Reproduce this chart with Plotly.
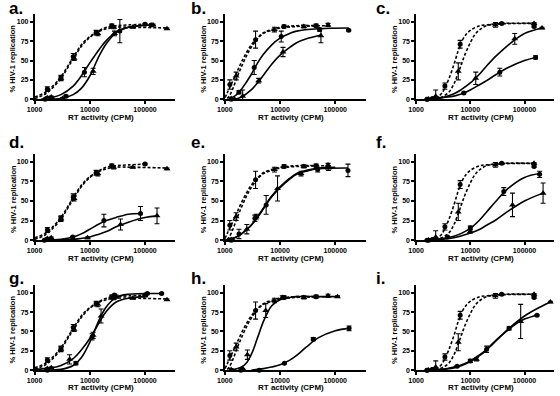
import plotly.graph_objects as go

# ---------------- shared control (dashed) series ----------------
# group A (panels a, d, g)
A_dc_x = [1700, 3000, 5000, 13000, 25000, 100000]
A_dc_y = [13, 28, 55, 86, 95, 97]
A_dc_e = [3, 3, 4, 3, 2, 1]
A_dc_fx = [1000, 1500, 2000, 3000, 4000, 5000, 7000, 10000, 15000, 20000, 30000, 50000, 100000]
A_dc_fy = [3, 8, 15, 29, 43, 54, 70, 81, 89, 93, 95, 96, 97]
A_dt_x = [1700, 2000, 3000, 5200, 14000, 27000, 60000, 250000]
A_dt_y = [2, 3, 27, 53, 85, 93, 93, 91]
A_dt_e = [1, 1, 3, 3, 3, 2, 1, 1]
A_dt_fx = [1000, 1500, 2000, 3000, 4000, 5000, 7000, 10000, 15000, 20000, 30000, 60000, 250000]
A_dt_fy = [1, 6, 13, 27, 41, 52, 68, 80, 88, 91, 93, 93, 92]

# group B (panels b, e, h)
B_dc_x = [1230, 3600, 11800, 45000]
B_dc_y = [19, 77, 94, 95]
B_dc_e = [6, 11, 2, 2]
B_dc_fx = [1000, 1100, 1200, 1400, 1700, 2000, 2500, 3000, 4000, 5000, 7000, 10000, 20000, 50000]
B_dc_fy = [2, 8, 14, 24, 37, 48, 61, 70, 80, 86, 90, 93, 95, 95]
B_dt_x = [1300, 1600, 7900, 27000, 74000]
B_dt_y = [1, 30, 90, 94, 96]
B_dt_e = [1, 5, 3, 2, 2]
B_dt_fx = [1100, 1200, 1400, 1700, 2000, 2500, 3000, 4000, 5000, 7000, 10000, 20000, 75000]
B_dt_fy = [1, 4, 14, 30, 42, 57, 67, 79, 85, 89, 92, 94, 95]

# group C (panels c, f, i)
C_dc_x = [1600, 2000, 3400, 6500, 38000, 150000]
C_dc_y = [0, 1, 17, 71, 98, 94]
C_dc_e = [1, 1, 4, 5, 1, 1]
C_dc_fx = [1500, 2000, 2500, 3000, 3500, 4000, 5000, 6000, 7000, 8000, 10000, 15000, 20000, 40000, 150000]
C_dc_fy = [0, 1, 3, 8, 17, 26, 45, 63, 75, 82, 89, 95, 96, 98, 98]
C_dt_x = [1700, 2300, 6000, 29000, 150000]
C_dt_y = [0, 4, 36, 96, 98]
C_dt_e = [0, 8, 11, 3, 1]
C_dt_fx = [1500, 2000, 2500, 3000, 4000, 5000, 6000, 7000, 8000, 10000, 12000, 15000, 20000, 30000, 150000]
C_dt_fy = [0, 0, 1, 3, 9, 20, 34, 47, 58, 73, 83, 90, 95, 97, 98]

# ---------------- per-panel (solid) series ----------------
a_c_x = [1550, 1800, 3700, 8000, 35000, 130000]
a_c_y = [0, 1, 4, 35, 88, 96]
a_c_e = [1, 1, 1, 6, 15, 1]
a_c_fx = [1300, 2000, 3000, 5000, 7000, 10000, 15000, 20000, 30000, 50000, 130000]
a_c_fy = [0, 2, 6, 17, 30, 47, 65, 76, 87, 93, 96]
a_t_x = [1600, 2100, 3200, 11500, 28000, 140000]
a_t_y = [0, 0, 1, 36, 85, 96]
a_t_e = [0, 0, 1, 4, 3, 1]
a_t_fx = [1500, 3000, 5000, 7000, 10000, 12000, 15000, 20000, 30000, 50000, 140000]
a_t_fy = [0, 1, 6, 14, 30, 42, 57, 72, 86, 93, 96]

b_c_x = [1300, 1800, 3400, 10500, 52000, 175000]
b_c_y = [0, 9, 41, 81, 90, 89]
b_c_e = [0, 2, 9, 7, 2, 1]
b_c_fx = [1200, 1500, 2000, 2500, 3000, 4000, 5000, 7000, 10000, 15000, 20000, 50000, 175000]
b_c_fy = [1, 4, 13, 23, 32, 48, 58, 70, 79, 85, 88, 91, 92]
b_t_x = [1500, 2100, 4100, 11300, 55000]
b_t_y = [0, 4, 24, 61, 82]
b_t_e = [0, 8, 3, 6, 9]
b_t_fx = [1500, 2000, 3000, 4000, 5000, 7000, 10000, 15000, 20000, 30000, 55000]
b_t_fy = [0, 3, 12, 22, 31, 45, 57, 67, 73, 78, 83]

c_c_x = [1600, 2500, 7600, 35000, 160000]
c_c_y = [0, 1, 8, 35, 54]
c_c_e = [0, 0, 1, 5, 2]
c_c_fx = [1700, 3000, 5000, 7000, 10000, 15000, 20000, 30000, 50000, 100000, 160000]
c_c_fy = [0, 2, 4, 7, 12, 19, 24, 32, 41, 50, 54]
c_t_x = [1700, 2200, 12600, 66000, 210000]
c_t_y = [0, 0, 27, 78, 92]
c_t_e = [0, 0, 8, 7, 1]
c_t_fx = [1700, 3000, 5000, 7000, 10000, 15000, 20000, 30000, 50000, 70000, 100000, 210000]
c_t_fy = [0, 2, 7, 13, 21, 33, 43, 56, 70, 78, 85, 92]

d_c_x = [1500, 2000, 4900, 18000, 83000]
d_c_y = [0, 1, 4, 25, 34]
d_c_e = [0, 0, 1, 8, 9]
d_c_fx = [1500, 3000, 5000, 7000, 10000, 15000, 20000, 30000, 50000, 85000]
d_c_fy = [0, 1, 4, 8, 14, 21, 25, 29, 33, 34]
d_t_x = [1600, 9100, 36000, 165000]
d_t_y = [0, 3, 20, 31]
d_t_e = [0, 1, 7, 10]
d_t_fx = [1500, 5000, 10000, 15000, 20000, 30000, 50000, 100000, 165000]
d_t_fy = [0, 1, 4, 8, 11, 17, 23, 29, 31]

e_c_x = [1300, 1800, 3500, 5600, 48000, 170000]
e_c_y = [0, 8, 28, 45, 90, 89]
e_c_e = [0, 6, 4, 12, 3, 8]
e_c_fx = [1000, 1500, 2000, 3000, 4000, 5000, 7000, 10000, 15000, 20000, 30000, 50000, 170000]
e_c_fy = [0, 3, 8, 19, 30, 40, 55, 67, 78, 84, 88, 91, 92]
e_t_x = [1400, 2500, 3700, 9000, 24000, 75000]
e_t_y = [0, 14, 30, 66, 85, 92]
e_t_e = [0, 6, 3, 16, 3, 3]
e_t_fx = [1000, 1500, 2000, 3000, 4000, 5000, 7000, 10000, 15000, 20000, 30000, 50000, 100000]
e_t_fy = [0, 3, 8, 19, 31, 41, 56, 68, 79, 85, 89, 92, 93]

f_c_x = [1700, 3800, 10000, 41500, 190000]
f_c_y = [0, 4, 16, 62, 84]
f_c_e = [0, 1, 2, 5, 4]
f_c_fx = [1700, 3000, 5000, 7000, 10000, 15000, 20000, 30000, 50000, 100000, 190000]
f_c_fy = [0, 2, 5, 9, 15, 26, 36, 50, 66, 80, 85]
f_t_x = [1700, 10000, 60000, 220000]
f_t_y = [0, 11, 45, 60]
f_t_e = [0, 2, 15, 13]
f_t_fx = [1700, 3000, 5000, 10000, 15000, 20000, 30000, 50000, 100000, 220000]
f_t_fy = [0, 1, 3, 9, 14, 19, 26, 37, 50, 60]

g_c_x = [1700, 5600, 11000, 28000, 110000, 200000]
g_c_y = [0, 9, 43, 97, 99, 99]
g_c_e = [0, 2, 4, 1, 1, 1]
g_c_fx = [1500, 3000, 5000, 7000, 10000, 12000, 15000, 20000, 30000, 50000, 200000]
g_c_fy = [0, 1, 6, 16, 36, 50, 66, 82, 94, 98, 99]
g_t_x = [1700, 4300, 11500, 16000, 30000, 100000]
g_t_y = [0, 14, 45, 70, 95, 96]
g_t_e = [0, 6, 4, 9, 2, 1]
g_t_fx = [1000, 2000, 3000, 5000, 7000, 10000, 15000, 20000, 30000, 50000, 100000]
g_t_fy = [1, 3, 6, 15, 26, 41, 62, 76, 88, 93, 95]

h_c_x = [1950, 4200, 12000, 40000, 178000]
h_c_y = [0, 0, 9, 40, 54]
h_c_e = [0, 0, 1, 2, 3]
h_c_fx = [3000, 5000, 7000, 10000, 15000, 20000, 30000, 50000, 100000, 178000]
h_c_fy = [0, 2, 4, 7, 13, 19, 30, 42, 51, 54]
h_t_x = [2100, 2560, 5500, 11000, 110000]
h_t_y = [2, 20, 77, 94, 95]
h_t_e = [0, 6, 9, 2, 1]
h_t_fx = [1300, 2000, 2500, 3000, 3500, 4000, 5000, 6000, 7000, 10000, 15000, 20000, 50000, 110000]
h_t_fy = [0, 4, 10, 20, 32, 44, 63, 75, 83, 91, 94, 95, 95, 95]

i_c_x = [1600, 2000, 5700, 10000, 20000, 52000, 170000]
i_c_y = [0, 1, 5, 12, 27, 54, 71]
i_c_e = [0, 0, 1, 2, 4, 2, 1]
i_c_fx = [1500, 3000, 5000, 7000, 10000, 15000, 20000, 30000, 50000, 70000, 100000, 170000]
i_c_fy = [0, 1, 4, 7, 12, 20, 27, 39, 52, 60, 66, 71]
i_t_x = [1700, 13000, 85000, 300000]
i_t_y = [0, 14, 63, 88]
i_t_e = [0, 2, 22, 1]
i_t_fx = [1500, 3000, 5000, 7000, 10000, 15000, 20000, 30000, 50000, 100000, 200000, 300000]
i_t_fy = [0, 1, 3, 6, 11, 19, 26, 38, 53, 70, 82, 88]

panel_labels = ["a.", "b.", "c.", "d.", "e.", "f.", "g.", "h.", "i."]
y_ticks = [0, 25, 50, 75, 100]
x_ticks = [1000, 10000, 100000]
x_tick_text = ["1000", "10000", "100000"]
x_title = "RT activity (CPM)"
y_title = "% HIV-1 replication"

# ---------------- build ----------------
ctrl = {
    "A": [(A_dc_x, A_dc_y, A_dc_e, A_dc_fx, A_dc_fy, "circle"),
          (A_dt_x, A_dt_y, A_dt_e, A_dt_fx, A_dt_fy, "triangle-up")],
    "B": [(B_dc_x, B_dc_y, B_dc_e, B_dc_fx, B_dc_fy, "circle"),
          (B_dt_x, B_dt_y, B_dt_e, B_dt_fx, B_dt_fy, "triangle-up")],
    "C": [(C_dc_x, C_dc_y, C_dc_e, C_dc_fx, C_dc_fy, "circle"),
          (C_dt_x, C_dt_y, C_dt_e, C_dt_fx, C_dt_fy, "triangle-up")],
}
solid = [
    [(a_c_x, a_c_y, a_c_e, a_c_fx, a_c_fy, "circle"), (a_t_x, a_t_y, a_t_e, a_t_fx, a_t_fy, "triangle-up")],
    [(b_c_x, b_c_y, b_c_e, b_c_fx, b_c_fy, "circle"), (b_t_x, b_t_y, b_t_e, b_t_fx, b_t_fy, "triangle-up")],
    [(c_c_x, c_c_y, c_c_e, c_c_fx, c_c_fy, "circle"), (c_t_x, c_t_y, c_t_e, c_t_fx, c_t_fy, "triangle-up")],
    [(d_c_x, d_c_y, d_c_e, d_c_fx, d_c_fy, "circle"), (d_t_x, d_t_y, d_t_e, d_t_fx, d_t_fy, "triangle-up")],
    [(e_c_x, e_c_y, e_c_e, e_c_fx, e_c_fy, "circle"), (e_t_x, e_t_y, e_t_e, e_t_fx, e_t_fy, "triangle-up")],
    [(f_c_x, f_c_y, f_c_e, f_c_fx, f_c_fy, "circle"), (f_t_x, f_t_y, f_t_e, f_t_fx, f_t_fy, "triangle-up")],
    [(g_c_x, g_c_y, g_c_e, g_c_fx, g_c_fy, "circle"), (g_t_x, g_t_y, g_t_e, g_t_fx, g_t_fy, "triangle-up")],
    [(h_c_x, h_c_y, h_c_e, h_c_fx, h_c_fy, "circle"), (h_t_x, h_t_y, h_t_e, h_t_fx, h_t_fy, "triangle-up")],
    [(i_c_x, i_c_y, i_c_e, i_c_fx, i_c_fy, "circle"), (i_t_x, i_t_y, i_t_e, i_t_fx, i_t_fy, "triangle-up")],
]
ctrl_group = ["A", "B", "C", "A", "B", "C", "A", "B", "C"]

W, H = 560, 396
FONT = "Liberation Sans, Arial, Helvetica, sans-serif"
col_x0 = [27, 220, 414]     # pixel of x=1000
col_dec = [56, 56, 55]      # pixels per decade
row_y0 = [100, 242, 373]    # pixel of y=0
row_s = [0.78, 0.79, 0.78]  # pixels per unit
row_title_off = [18, 18, 17]
XMAX = 5.55
YMAX = 110

fig = go.Figure()
layout = {}
annotations = []

def add_series(idx, s, dashed):
    x, y, e, fx, fy, sym = s
    xa = "x" if idx == 0 else f"x{idx+1}"
    ya = "y" if idx == 0 else f"y{idx+1}"
    fig.add_trace(go.Scatter(
        x=fx, y=fy, xaxis=xa, yaxis=ya, mode="lines", line_shape="spline",
        line=dict(color="black", width=1.6, dash="3px,2px" if dashed else "solid"),
        hoverinfo="skip", showlegend=False, cliponaxis=False))
    fig.add_trace(go.Scatter(
        x=x, y=y, xaxis=xa, yaxis=ya, mode="markers",
        marker=dict(symbol=sym, color="black", size=5 if sym == "circle" else 6),
        error_y=dict(type="data", array=e, color="black", thickness=1.1, width=2.5),
        showlegend=False, cliponaxis=False))

for idx in range(9):
    r, c = divmod(idx, 3)
    for s in ctrl[ctrl_group[idx]]:
        add_series(idx, s, True)
    for s in solid[idx]:
        add_series(idx, s, False)

    x0 = col_x0[c]
    x1 = x0 + col_dec[c] * (XMAX - 3)
    y0 = row_y0[r]
    y1 = y0 - row_s[r] * YMAX
    sfx = "" if idx == 0 else str(idx + 1)
    layout["xaxis" + sfx] = dict(
        type="log", range=[3, XMAX], domain=[x0 / W, x1 / W], anchor="y" + sfx,
        showline=True, linecolor="black", linewidth=1.5, ticks="outside", ticklen=3,
        tickwidth=1.5, tickcolor="black", tickvals=x_ticks, ticktext=x_tick_text,
        tickfont=dict(family=FONT, size=7, color="black", weight="bold"),
        showgrid=False, zeroline=False, fixedrange=True)
    layout["yaxis" + sfx] = dict(
        range=[0, YMAX], domain=[1 - y0 / H, 1 - y1 / H], anchor="x" + sfx,
        showline=True, linecolor="black", linewidth=1.5, ticks="outside", ticklen=3,
        tickwidth=1.5, tickcolor="black", tickvals=y_ticks,
        tickfont=dict(family=FONT, size=7, color="black", weight="bold"),
        showgrid=False, zeroline=False, fixedrange=True)

    # axis titles
    annotations.append(dict(
        text=x_title, xref="paper", yref="paper", x=((x0 + x1) / 2 - 4) / W,
        y=1 - (y0 + row_title_off[r]) / H, showarrow=False, xanchor="center",
        yanchor="middle", borderpad=0,
        font=dict(family=FONT, size=8, color="black", weight="bold")))
    annotations.append(dict(
        text=y_title, xref="paper", yref="paper", x=(x0 - 22) / W,
        y=1 - ((y0 + y1) / 2 + 2) / H, showarrow=False, textangle=-90,
        xanchor="center", yanchor="middle", borderpad=0,
        font=dict(family=FONT, size=7.5, color="black", weight="bold")))
    # panel label
    lx = [0, 185, 372][c]
    ly = [9, 144, 281][r]
    annotations.append(dict(
        text=panel_labels[idx], xref="paper", yref="paper", x=lx / W, y=1 - ly / H,
        showarrow=False, xanchor="left", yanchor="middle", borderpad=0,
        font=dict(family=FONT, size=17, color="black", weight="bold")))

fig.update_layout(
    width=W, height=H, margin=dict(l=0, r=0, t=0, b=0),
    paper_bgcolor="white", plot_bgcolor="white",
    annotations=annotations, **layout)

fig.write_html("out.html", config={"displayModeBar": False},
               post_script="document.body.style.margin='0';document.body.style.overflow='hidden';")
